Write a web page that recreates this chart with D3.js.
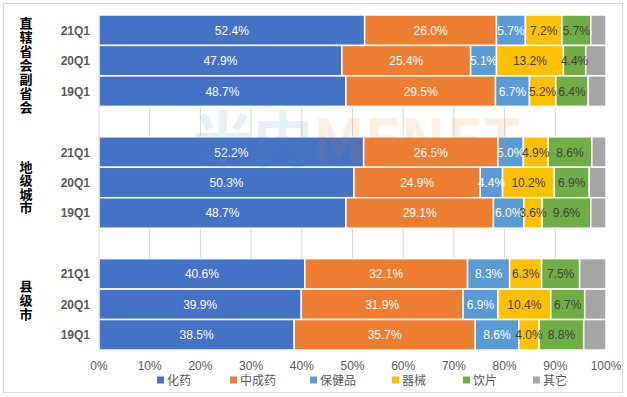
<!DOCTYPE html>
<html>
<head>
<meta charset="utf-8">
<script src="https://cdn.jsdelivr.net/npm/d3@7"></script>
<style>
  body { margin: 0; background: #fff; }
  text { font-family: "Liberation Sans", Arial, "Noto Sans CJK SC", sans-serif; }
</style>
</head>
<body>
<div id="chart"></div>
<script>
// categories
const groups = ['直辖省会副省会', '地级城市', '县级市']
const quarters = ['21Q1', '20Q1', '19Q1']
const seriesNames = ['化药', '中成药', '保健品', '器械', '饮片', '其它']
const seriesColors = ['#4472C4', '#ED7D31', '#5B9BD5', '#FFC000', '#70AD47', '#A5A5A5']
const xTicks = [0, 10, 20, 30, 40, 50, 60, 70, 80, 90, 100]

// share (%) per group, rows = 21Q1, 20Q1, 19Q1
const shareGroup1 = [
  [52.4, 26.0, 5.7, 7.2, 5.7, 3.0],
  [47.9, 25.4, 5.1, 13.2, 4.4, 4.0],
  [48.7, 29.5, 6.7, 5.2, 6.4, 3.5]
]
const shareGroup2 = [
  [52.2, 26.5, 5.0, 4.9, 8.6, 2.8],
  [50.3, 24.9, 4.4, 10.2, 6.9, 3.3],
  [48.7, 29.1, 6.0, 3.6, 9.6, 3.0]
]
const shareGroup3 = [
  [40.6, 32.1, 8.3, 6.3, 7.5, 5.2],
  [39.9, 31.9, 6.9, 10.4, 6.7, 4.2],
  [38.5, 35.7, 8.6, 4.0, 8.8, 4.4]
]
const shares = [shareGroup1, shareGroup2, shareGroup3]

const width = 627, height = 397

const svg = d3.select('#chart').append('svg')
  .attr('width', width)
  .attr('height', height)

// outer frame
svg.append('rect')
  .attr('x', 3.5).attr('y', 3.5)
  .attr('width', 619).attr('height', 389)
  .attr('fill', '#fff')
  .attr('stroke', '#D9D9D9')

// row keys, with a blank row between groups
let rowKeys = []
groups.forEach((g, gi) => {
  if (gi) rowKeys.push('gap' + gi)
  quarters.forEach(q => rowKeys.push(g + '|' + q))
})

let x = d3.scaleLinear().domain([0, 100]).range([99, 606])
let y = d3.scaleBand().domain(rowKeys).range([15, 350]).padding(0)

// gridlines
svg.append('g')
  .selectAll('line')
  .data(xTicks.slice(1, -1))
  .enter()
  .append('line')
  .attr('x1', d => x(d)).attr('x2', d => x(d))
  .attr('y1', 15).attr('y2', 350)
  .attr('stroke', '#D9D9D9')

// stacked rows
let rows = []
groups.forEach((g, gi) => {
  quarters.forEach((q, qi) => {
    let acc = 0
    shares[gi][qi].forEach((v, si) => {
      rows.push({ key: g + '|' + q, series: si, x0: acc, x1: acc + v, v: v })
      acc += v
    })
  })
})

svg.append('g')
  .selectAll('rect')
  .data(rows)
  .enter()
  .append('rect')
  .attr('x', d => x(d.x0))
  .attr('y', d => y(d.key))
  .attr('width', d => x(d.x1) - x(d.x0))
  .attr('height', y.bandwidth())
  .attr('fill', d => seriesColors[d.series])
  .attr('stroke', '#fff')
  .attr('stroke-width', 1.5)

// value labels (not for 其它)
svg.append('g')
  .selectAll('text')
  .data(rows.filter(d => d.series < 5))
  .enter()
  .append('text')
  .attr('x', d => x((d.x0 + d.x1) / 2))
  .attr('y', d => y(d.key) + y.bandwidth() / 2 + 4.5)
  .attr('text-anchor', 'middle')
  .attr('font-size', 12)
  .attr('fill', d => d.series < 3 ? '#fff' : '#404040')
  .text(d => d.v.toFixed(1) + '%')

// y axis line
svg.append('line')
  .attr('x1', 99).attr('x2', 99)
  .attr('y1', 15).attr('y2', 350)
  .attr('stroke', '#D9D9D9')

// quarter labels
svg.append('g')
  .selectAll('text')
  .data(rowKeys.filter(k => k.indexOf('|') > 0))
  .enter()
  .append('text')
  .attr('x', 90)
  .attr('y', k => y(k) + y.bandwidth() / 2 + 4.5)
  .attr('text-anchor', 'end')
  .attr('font-size', 12)
  .attr('font-weight', 'bold')
  .attr('fill', '#595959')
  .text(k => k.split('|')[1])

// group labels, vertical
const charStep = [14, 13.4, 14]
const groupShift = [5, 5, -4]
groups.forEach((g, gi) => {
  let top = y(g + '|' + quarters[0])
  let bottom = y(g + '|' + quarters[2]) + y.bandwidth()
  let mid = (top + bottom) / 2 + groupShift[gi]
  let chars = g.split('')
  let t = svg.append('text')
    .attr('text-anchor', 'middle')
    .attr('font-size', 13)
    .attr('font-weight', 'bold')
    .attr('fill', '#000')
    .style('font-family', '"Noto Sans CJK SC", sans-serif')
  chars.forEach((c, ci) => {
    t.append('tspan')
      .attr('x', 26)
      .attr('y', mid + (ci - (chars.length - 1) / 2) * charStep[gi] + 4.5)
      .text(c)
  })
})

// x tick labels
svg.append('g')
  .selectAll('text')
  .data(xTicks)
  .enter()
  .append('text')
  .attr('x', d => x(d))
  .attr('y', 370)
  .attr('text-anchor', 'middle')
  .attr('font-size', 12)
  .attr('fill', '#595959')
  .text(d => d + '%')

// legend
const legendX = [157, 230, 310, 392, 463, 533]
let legend = svg.append('g')
  .selectAll('g')
  .data(seriesNames)
  .enter()
  .append('g')
  .attr('transform', (d, i) => 'translate(' + legendX[i] + ', 380)')

legend.append('rect')
  .attr('x', 0).attr('y', -3.5)
  .attr('width', 7).attr('height', 7)
  .attr('fill', (d, i) => seriesColors[i])

legend.append('text')
  .attr('x', 10)
  .attr('y', 4.5)
  .attr('font-size', 12)
  .attr('fill', '#595959')
  .style('font-family', '"Noto Sans CJK SC", sans-serif')
  .text(d => d)

// faint watermark
let wm = svg.append('text')
  .attr('x', 193)
  .attr('y', 162)
  .attr('font-size', 60)
  .attr('font-weight', 'bold')
  .attr('opacity', 0.13)
  .style('font-family', '"Noto Sans CJK SC", sans-serif')
wm.append('tspan').attr('fill', '#4a90b8').text('米内')
wm.append('tspan').attr('fill', '#f08030').text('MENET')
</script>
</body>
</html>
